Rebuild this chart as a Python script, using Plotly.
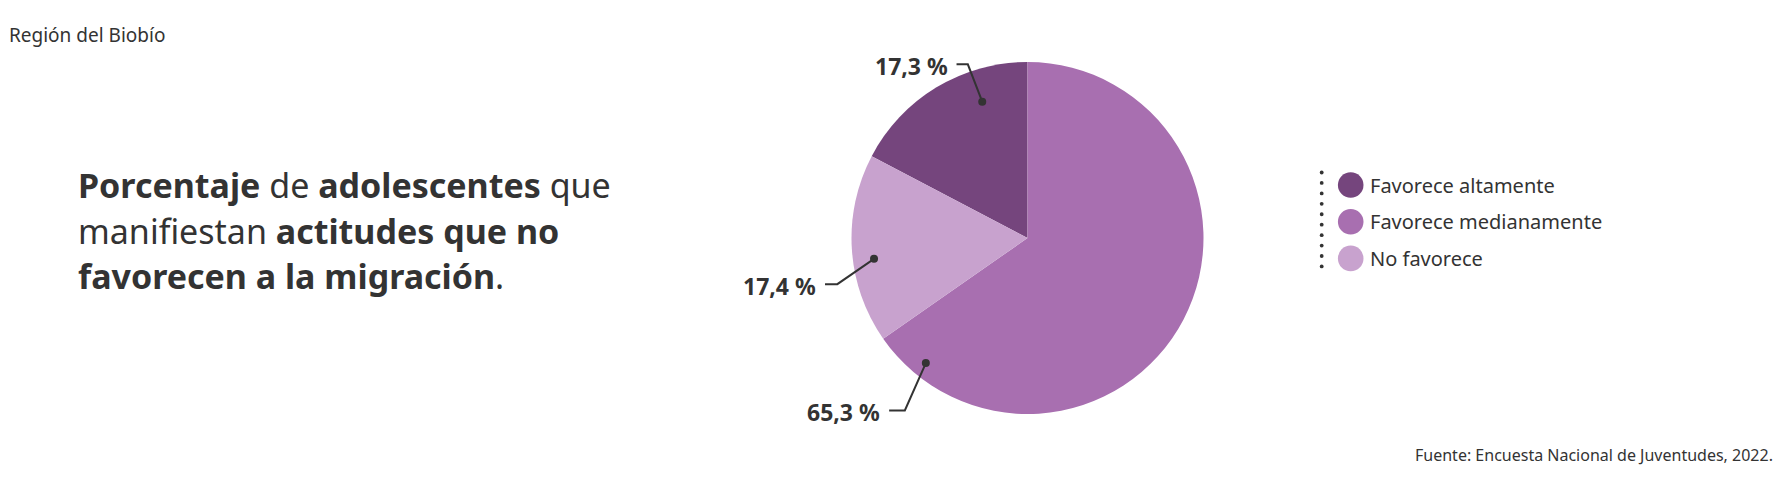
import math
import plotly.graph_objects as go

# ---------------- data ----------------
categories = ["Favorece altamente", "Favorece medianamente", "No favorece"]
values = [17.3, 65.3, 17.4]
value_labels = ["17,3 %", "65,3 %", "17,4 %"]
colors = ["#75457d", "#a86fb0", "#c8a2ce"]

title_lines = [
    "<b>Porcentaje</b> de <b>adolescentes</b> que",
    "manifiestan <b>actitudes que no</b>",
    "<b>favorecen a la migración</b>.",
]
region_text = "Región del Biobío"
source_text = "Fuente: Encuesta Nacional de Juventudes, 2022."

# ---------------- layout constants (page pixels) ----------------
PAGE_W, PAGE_H = 1791, 477
OFF = 8                      # default body margin of the html page
W, H = PAGE_W - 2 * OFF, PAGE_H - 2 * OFF
CX, CY, R = 1027.5, 238, 176
FONT = "Noto Sans"
TXT = "#333333"

# leader placement per slice: position inside slice (fraction of its arc),
# radius fraction, elbow offset from dot (dx, dy), horizontal segment length
leader_style = [
    (0.705, 0.816, (-14.4, -37.4), 11.3),
    (0.932, 0.916, (-21.0, 47.4), 15.7),
    (0.434, 0.880, (-36.7, 25.3), 12.3),
]
TEXT_GAP = 7


def fx(x):
    return (x - OFF) / W


def fy(y):
    return 1 - (y - OFF) / H


total = sum(values)
rotation = -360 * values[0] / total

fig = go.Figure()
fig.add_trace(go.Pie(
    labels=categories,
    values=values,
    sort=False,
    direction="clockwise",
    rotation=rotation,
    marker=dict(colors=colors, line=dict(width=0)),
    textinfo="none",
    hoverinfo="label+percent",
    showlegend=False,
    domain=dict(x=[fx(CX - R), fx(CX + R)], y=[fy(CY + R), fy(CY - R)]),
))

shapes = []
annotations = []

# leader lines, dots and value labels
start = rotation
for val, lab, (frac, rf, (ex, ey), hlen) in zip(values, value_labels, leader_style):
    span = 360 * val / total
    ang = math.radians(start + frac * span)
    start += span
    dx = CX + rf * R * math.sin(ang)
    dy = CY - rf * R * math.cos(ang)
    elx, ely = dx + ex, dy + ey
    hx = elx - hlen
    shapes.append(dict(
        type="path", xref="paper", yref="paper", layer="above",
        path=f"M {fx(hx)} {fy(ely)} L {fx(elx)} {fy(ely)} L {fx(dx)} {fy(dy)}",
        line=dict(color=TXT, width=2),
    ))
    shapes.append(dict(
        type="circle", xref="paper", yref="paper", layer="above",
        x0=fx(dx - 4), x1=fx(dx + 4), y0=fy(dy + 4), y1=fy(dy - 4),
        fillcolor=TXT, line=dict(width=0),
    ))
    annotations.append(dict(
        text=f"<b>{lab}</b>", xref="paper", yref="paper",
        x=fx(hx - TEXT_GAP), y=fy(ely + 1.5), xanchor="right", yanchor="middle",
        showarrow=False, font=dict(family=FONT, size=23, color=TXT),
    ))

# custom legend
LEG_X, LEG_Y0, LEG_DY, LEG_R = 1350.7, 185, 36.7, 12.8
for i, (cat, col) in enumerate(zip(categories, colors)):
    cy = LEG_Y0 + i * LEG_DY
    shapes.append(dict(
        type="circle", xref="paper", yref="paper", layer="above",
        x0=fx(LEG_X - LEG_R), x1=fx(LEG_X + LEG_R),
        y0=fy(cy + LEG_R), y1=fy(cy - LEG_R),
        fillcolor=col, line=dict(width=0),
    ))
    annotations.append(dict(
        text=cat, xref="paper", yref="paper",
        x=fx(LEG_X + 17), y=fy(cy), xanchor="left", yanchor="middle",
        showarrow=False, font=dict(family=FONT, size=20, color=TXT),
    ))

# dotted vertical rule left of legend
DOT_X, DOT_Y0, DOT_STEP, DOT_N, DOT_R = 1321.7, 172.5, 10.44, 10, 1.9
for k in range(DOT_N):
    yy = DOT_Y0 + k * DOT_STEP
    shapes.append(dict(
        type="circle", xref="paper", yref="paper", layer="above",
        x0=fx(DOT_X - DOT_R), x1=fx(DOT_X + DOT_R),
        y0=fy(yy + DOT_R), y1=fy(yy - DOT_R),
        fillcolor=TXT, line=dict(width=0),
    ))

# title block
TITLE_X = 76
for i, line in enumerate(title_lines):
    annotations.append(dict(
        text=line, xref="paper", yref="paper",
        x=fx(TITLE_X), y=fy(185 + i * 45.5), xanchor="left", yanchor="middle",
        showarrow=False, font=dict(family=FONT, size=34, color=TXT),
    ))

annotations.append(dict(
    text=region_text, xref="paper", yref="paper",
    x=0, y=fy(35), xanchor="left", yanchor="middle", xshift=-1,
    showarrow=False, font=dict(family=FONT, size=19, color=TXT),
))
annotations.append(dict(
    text=source_text, xref="paper", yref="paper",
    x=fx(1775), y=fy(455), xanchor="right", yanchor="middle",
    showarrow=False, font=dict(family=FONT, size=16, color=TXT),
))

fig.update_layout(
    width=W, height=H,
    margin=dict(l=0, r=0, t=0, b=0),
    paper_bgcolor="white", plot_bgcolor="white",
    showlegend=False,
    shapes=shapes, annotations=annotations,
    font=dict(family=FONT, color=TXT),
)

fig.write_html("out.html")
